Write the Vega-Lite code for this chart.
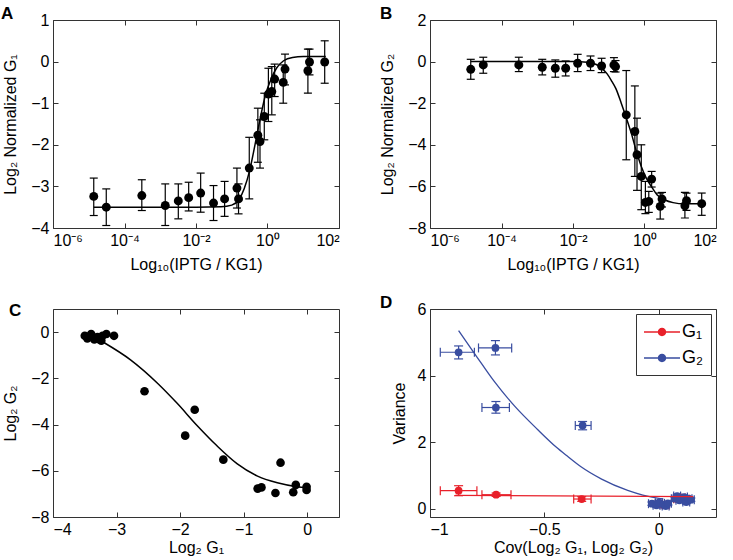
{
  "$schema": "https://vega.github.io/schema/vega-lite/v6.json",
  "background": "white",
  "padding": {"left": 0, "top": 4, "right": 5, "bottom": 5},
  "config": {
    "font": "Liberation Sans",
    "view": {"stroke": "#333", "strokeWidth": 1},
    "axis": {"domain": false, "grid": false, "tickSize": -5, "tickColor": "#333", "tickWidth": 1, "labelPadding": 9, "labelFontSize": 16, "labelColor": "black", "labelFont": "Liberation Sans", "titleFont": "Liberation Sans", "titleFontSize": 16, "titleFontWeight": "normal", "titleColor": "black", "titlePadding": 8},
    "axisLeft": {"titlePadding": 12},
    "title": {"anchor": "start", "frame": "group", "baseline": "alphabetic", "fontSize": 17, "fontWeight": "bold", "font": "Liberation Sans", "color": "black"}
  },
  "resolve": {"scale": {"color": "independent"}, "legend": {"color": "independent"}},
  "datasets": {
    "main": [
      {"x": 1.38e-5, "g1": -3.24, "g1lo": -3.70, "g1hi": -2.80, "g2": -0.37, "g2lo": -0.85, "g2hi": 0.11},
      {"x": 3.09e-5, "g1": -3.50, "g1lo": -3.94, "g1hi": -3.06, "g2": -0.16, "g2lo": -0.56, "g2hi": 0.21},
      {"x": 3.05e-4, "g1": -3.22, "g1lo": -3.58, "g1hi": -2.84, "g2": -0.16, "g2lo": -0.48, "g2hi": 0.21},
      {"x": 1.38e-3, "g1": -3.46, "g1lo": -3.94, "g1hi": -2.94, "g2": -0.27, "g2lo": -0.64, "g2hi": 0.11},
      {"x": 3.2e-3, "g1": -3.35, "g1lo": -3.78, "g1hi": -2.94, "g2": -0.32, "g2lo": -0.75, "g2hi": 0.08},
      {"x": 6.24e-3, "g1": -3.27, "g1lo": -3.59, "g1hi": -2.90, "g2": -0.32, "g2lo": -0.69, "g2hi": 0.03},
      {"x": 1.35e-2, "g1": -3.16, "g1lo": -3.62, "g1hi": -2.68, "g2": -0.08, "g2lo": -0.48, "g2hi": 0.35},
      {"x": 3.09e-2, "g1": -3.40, "g1lo": -3.82, "g1hi": -2.98, "g2": -0.08, "g2lo": -0.43, "g2hi": 0.27},
      {"x": 6.31e-2, "g1": -3.30, "g1lo": -3.72, "g1hi": -2.88, "g2": -0.21, "g2lo": -0.53, "g2hi": 0.16},
      {"x": 0.1396, "g1": -3.04, "g1lo": -3.52, "g1hi": -2.56, "g2": -0.16, "g2lo": -0.48, "g2hi": 0.19},
      {"x": 0.1549, "g1": -3.30, "g1lo": -3.66, "g1hi": -2.94, "g2": -0.24, "g2lo": -0.50, "g2hi": 0.05},
      {"x": 0.309, "g1": -2.56, "g1lo": -3.30, "g1hi": -1.82, "g2": -2.56, "g2lo": -4.72, "g2hi": -0.43},
      {"x": 0.537, "g1": -1.77, "g1lo": -2.42, "g1hi": -1.12, "g2": -3.36, "g2lo": -5.52, "g2hi": -1.17},
      {"x": 0.617, "g1": -1.92, "g1lo": -2.56, "g1hi": -1.40, "g2": -4.48, "g2lo": -6.19, "g2hi": -2.72},
      {"x": 0.813, "g1": -1.32, "g1lo": -1.88, "g1hi": -0.76, "g2": -5.52, "g2lo": -7.12, "g2hi": -4.00},
      {"x": 1.059, "g1": -0.78, "g1lo": -1.44, "g1hi": -0.16, "g2": -6.77, "g2lo": -7.31, "g2hi": -5.76},
      {"x": 1.318, "g1": -0.72, "g1lo": -1.28, "g1hi": -0.12, "g2": -6.72, "g2lo": -7.25, "g2hi": -6.24},
      {"x": 1.585, "g1": -0.42, "g1lo": -0.84, "g1hi": -0.06, "g2": -5.65, "g2lo": -6.03, "g2hi": -5.28},
      {"x": 2.754, "g1": -0.50, "g1lo": -1.00, "g1hi": -0.08, "g2": -6.96, "g2lo": -7.57, "g2hi": -6.32},
      {"x": 3.09, "g1": -0.18, "g1lo": -0.56, "g1hi": 0.18, "g2": -6.61, "g2lo": -6.99, "g2hi": -6.29},
      {"x": 13.49, "g1": -0.22, "g1lo": -0.76, "g1hi": 0.30, "g2": -6.93, "g2lo": -7.52, "g2hi": -6.29},
      {"x": 14.96, "g1": -0.01, "g1lo": -0.32, "g1hi": 0.30, "g2": -6.69, "g2lo": -7.15, "g2hi": -6.32},
      {"x": 39.81, "g1": -0.01, "g1lo": -0.52, "g1hi": 0.50, "g2": -6.83, "g2lo": -7.39, "g2hi": -6.32}
    ],
    "curveA": [
      {"x": 1.38e-5, "y": -3.5}, {"x": 0.01, "y": -3.5}, {"x": 0.05012, "y": -3.49}, {"x": 0.1, "y": -3.45},
      {"x": 0.1585, "y": -3.32}, {"x": 0.2239, "y": -3.05}, {"x": 0.3162, "y": -2.62}, {"x": 0.4467, "y": -2.0},
      {"x": 0.631, "y": -1.35}, {"x": 0.8913, "y": -0.78}, {"x": 1.259, "y": -0.42}, {"x": 1.778, "y": -0.16},
      {"x": 2.818, "y": 0.02}, {"x": 5.012, "y": 0.1}, {"x": 10, "y": 0.12}, {"x": 42.66, "y": 0.12}
    ],
    "curveB": [
      {"x": 1.38e-5, "y": 0.0}, {"x": 0.01, "y": 0.0}, {"x": 0.02512, "y": -0.03}, {"x": 0.04467, "y": -0.14},
      {"x": 0.06166, "y": -0.3}, {"x": 0.08913, "y": -0.58}, {"x": 0.1175, "y": -0.9}, {"x": 0.1585, "y": -1.3},
      {"x": 0.2239, "y": -2.0}, {"x": 0.3162, "y": -2.75}, {"x": 0.4266, "y": -3.44}, {"x": 0.5888, "y": -4.3},
      {"x": 0.8128, "y": -5.04}, {"x": 1.122, "y": -5.6}, {"x": 1.549, "y": -6.0}, {"x": 2.239, "y": -6.4},
      {"x": 3.631, "y": -6.64}, {"x": 6.31, "y": -6.78}, {"x": 13.18, "y": -6.84}, {"x": 38.02, "y": -6.84}
    ],
    "curveC": [
      {"x": -3.2, "y": -0.45}, {"x": -2.78, "y": -1.2}, {"x": -2.36, "y": -2.2}, {"x": -2.05, "y": -3.07},
      {"x": -1.73, "y": -4.05}, {"x": -1.42, "y": -4.92}, {"x": -1.1, "y": -5.7}, {"x": -0.79, "y": -6.22},
      {"x": -0.47, "y": -6.52}, {"x": -0.16, "y": -6.69}, {"x": 0.0, "y": -6.74}
    ],
    "dpts": [
      {"s": "G₁", "cov": -0.875, "covlo": -0.955, "covhi": -0.795, "v": 0.54, "vlo": 0.39, "vhi": 0.69},
      {"s": "G₁", "cov": -0.711, "covlo": -0.773, "covhi": -0.646, "v": 0.42, "vlo": 0.37, "vhi": 0.47},
      {"s": "G₁", "cov": -0.337, "covlo": -0.372, "covhi": -0.296, "v": 0.29, "vlo": 0.22, "vhi": 0.36},
      {"s": "G₁", "cov": 0.0, "covlo": -0.015, "covhi": 0.015, "v": 0.14, "vlo": 0.10, "vhi": 0.18},
      {"s": "G₁", "cov": 0.03, "covlo": 0.015, "covhi": 0.045, "v": 0.12, "vlo": 0.08, "vhi": 0.16},
      {"s": "G₁", "cov": 0.08, "covlo": 0.065, "covhi": 0.095, "v": 0.30, "vlo": 0.25, "vhi": 0.35},
      {"s": "G₁", "cov": 0.10, "covlo": 0.085, "covhi": 0.115, "v": 0.33, "vlo": 0.28, "vhi": 0.38},
      {"s": "G₁", "cov": 0.12, "covlo": 0.105, "covhi": 0.135, "v": 0.28, "vlo": 0.23, "vhi": 0.33},
      {"s": "G₂", "cov": -0.875, "covlo": -0.955, "covhi": -0.806, "v": 4.70, "vlo": 4.50, "vhi": 4.89},
      {"s": "G₂", "cov": -0.714, "covlo": -0.788, "covhi": -0.643, "v": 4.83, "vlo": 4.62, "vhi": 5.05},
      {"s": "G₂", "cov": -0.712, "covlo": -0.773, "covhi": -0.653, "v": 3.04, "vlo": 2.87, "vhi": 3.22},
      {"s": "G₂", "cov": -0.333, "covlo": -0.365, "covhi": -0.296, "v": 2.50, "vlo": 2.37, "vhi": 2.62},
      {"s": "G₂", "cov": -0.03, "covlo": -0.045, "covhi": -0.015, "v": 0.15, "vlo": 0.10, "vhi": 0.20},
      {"s": "G₂", "cov": -0.01, "covlo": -0.025, "covhi": 0.005, "v": 0.10, "vlo": 0.05, "vhi": 0.15},
      {"s": "G₂", "cov": 0.0, "covlo": -0.015, "covhi": 0.015, "v": 0.18, "vlo": 0.13, "vhi": 0.23},
      {"s": "G₂", "cov": 0.02, "covlo": 0.005, "covhi": 0.035, "v": 0.12, "vlo": 0.07, "vhi": 0.17},
      {"s": "G₂", "cov": 0.03, "covlo": 0.015, "covhi": 0.045, "v": 0.08, "vlo": 0.03, "vhi": 0.13},
      {"s": "G₂", "cov": 0.04, "covlo": 0.025, "covhi": 0.055, "v": 0.16, "vlo": 0.11, "vhi": 0.21},
      {"s": "G₂", "cov": 0.07, "covlo": 0.055, "covhi": 0.085, "v": 0.30, "vlo": 0.25, "vhi": 0.35},
      {"s": "G₂", "cov": 0.08, "covlo": 0.065, "covhi": 0.095, "v": 0.38, "vlo": 0.33, "vhi": 0.43},
      {"s": "G₂", "cov": 0.09, "covlo": 0.075, "covhi": 0.105, "v": 0.25, "vlo": 0.20, "vhi": 0.30},
      {"s": "G₂", "cov": 0.11, "covlo": 0.095, "covhi": 0.125, "v": 0.35, "vlo": 0.30, "vhi": 0.40},
      {"s": "G₂", "cov": 0.12, "covlo": 0.105, "covhi": 0.135, "v": 0.20, "vlo": 0.15, "vhi": 0.25},
      {"s": "G₂", "cov": 0.13, "covlo": 0.115, "covhi": 0.145, "v": 0.30, "vlo": 0.25, "vhi": 0.35},
      {"s": "G₂", "cov": 0.14, "covlo": 0.125, "covhi": 0.155, "v": 0.27, "vlo": 0.22, "vhi": 0.32}
    ],
    "dcurve": [
      {"s": "G₂", "cov": -0.875, "v": 5.35}, {"s": "G₂", "cov": -0.80, "v": 4.61}, {"s": "G₂", "cov": -0.72, "v": 3.83},
      {"s": "G₂", "cov": -0.63, "v": 3.08}, {"s": "G₂", "cov": -0.53, "v": 2.38}, {"s": "G₂", "cov": -0.45, "v": 1.86},
      {"s": "G₂", "cov": -0.40, "v": 1.58}, {"s": "G₂", "cov": -0.34, "v": 1.26}, {"s": "G₂", "cov": -0.25, "v": 0.89},
      {"s": "G₂", "cov": -0.136, "v": 0.55}, {"s": "G₂", "cov": -0.07, "v": 0.41}, {"s": "G₂", "cov": 0.0, "v": 0.31},
      {"s": "G₂", "cov": 0.02, "v": 0.29},
      {"s": "G₁", "cov": -0.89, "v": 0.40}, {"s": "G₁", "cov": 0.15, "v": 0.36}
    ]
  },
  "columns": 2,
  "spacing": {"row": 81, "column": 91},
  "bounds": "flush",
  "concat": [
    {
      "width": 286, "height": 208,
      "title": {"text": "A", "dx": -52, "offset": -11},
      "resolve": {"axis": {"x": "independent", "y": "independent"}},
      "layer": [
        {
          "data": {"name": "curveA"},
          "mark": {"type": "line", "color": "black", "strokeWidth": 1.5, "interpolate": "monotone"},
          "encoding": {
            "x": {"field": "x", "type": "quantitative", "scale": {"type": "log", "domain": [1e-6, 100], "nice": false},
                  "axis": {"values": [1e-6, 1e-4, 0.01, 1, 100], "title": "Log₁₀(IPTG / KG1)",
                           "labelExpr": "round(log(datum.value)/LN10) == -6 ? '10⁻⁶' : round(log(datum.value)/LN10) == -4 ? '10⁻⁴' : round(log(datum.value)/LN10) == -2 ? '10⁻²' : round(log(datum.value)/LN10) == 0 ? '10⁰' : '10²'"}},
            "y": {"field": "y", "type": "quantitative", "scale": {"domain": [-4, 1], "nice": false},
                  "axis": {"values": [-4, -3, -2, -1, 0, 1], "format": "~g", "title": "Log₂ Normalized G₁"}}
          }
        },
        {
          "data": {"name": "main"},
          "mark": {"type": "errorbar", "color": "black", "thickness": 1.2, "opacity": 1, "ticks": {"size": 8}},
          "encoding": {
            "x": {"field": "x", "type": "quantitative", "axis": null},
            "y": {"field": "g1lo", "type": "quantitative", "axis": null},
            "y2": {"field": "g1hi"}
          }
        },
        {
          "data": {"name": "main"},
          "mark": {"type": "point", "filled": true, "color": "black", "size": 80, "opacity": 1},
          "encoding": {
            "x": {"field": "x", "type": "quantitative", "axis": {"orient": "top", "labels": false, "title": null, "values": [1e-6, 1e-4, 0.01, 1, 100]}},
            "y": {"field": "g1", "type": "quantitative", "axis": {"orient": "right", "labels": false, "title": null, "values": [-4, -3, -2, -1, 0, 1]}}
          }
        }
      ]
    },
    {
      "width": 286, "height": 208,
      "title": {"text": "B", "dx": -50, "offset": -11},
      "resolve": {"axis": {"x": "independent", "y": "independent"}},
      "layer": [
        {
          "data": {"name": "curveB"},
          "mark": {"type": "line", "color": "black", "strokeWidth": 1.5, "interpolate": "monotone"},
          "encoding": {
            "x": {"field": "x", "type": "quantitative", "scale": {"type": "log", "domain": [1e-6, 100], "nice": false},
                  "axis": {"values": [1e-6, 1e-4, 0.01, 1, 100], "title": "Log₁₀(IPTG / KG1)",
                           "labelExpr": "round(log(datum.value)/LN10) == -6 ? '10⁻⁶' : round(log(datum.value)/LN10) == -4 ? '10⁻⁴' : round(log(datum.value)/LN10) == -2 ? '10⁻²' : round(log(datum.value)/LN10) == 0 ? '10⁰' : '10²'"}},
            "y": {"field": "y", "type": "quantitative", "scale": {"domain": [-8, 2], "nice": false},
                  "axis": {"values": [-8, -6, -4, -2, 0, 2], "format": "~g", "title": "Log₂ Normalized G₂"}}
          }
        },
        {
          "data": {"name": "main"},
          "mark": {"type": "errorbar", "color": "black", "thickness": 1.2, "opacity": 1, "ticks": {"size": 8}},
          "encoding": {
            "x": {"field": "x", "type": "quantitative", "axis": null},
            "y": {"field": "g2lo", "type": "quantitative", "axis": null},
            "y2": {"field": "g2hi"}
          }
        },
        {
          "data": {"name": "main"},
          "mark": {"type": "point", "filled": true, "color": "black", "size": 80, "opacity": 1},
          "encoding": {
            "x": {"field": "x", "type": "quantitative", "axis": {"orient": "top", "labels": false, "title": null, "values": [1e-6, 1e-4, 0.01, 1, 100]}},
            "y": {"field": "g2", "type": "quantitative", "axis": {"orient": "right", "labels": false, "title": null, "values": [-8, -6, -4, -2, 0, 2]}}
          }
        }
      ]
    },
    {
      "width": 286, "height": 208,
      "title": {"text": "C", "dx": -44, "dy": 13, "offset": 2},
      "resolve": {"axis": {"x": "independent", "y": "independent"}},
      "layer": [
        {
          "data": {"name": "curveC"},
          "mark": {"type": "line", "color": "black", "strokeWidth": 1.5, "interpolate": "monotone"},
          "encoding": {
            "x": {"field": "x", "type": "quantitative", "scale": {"domain": [-4, 0.5], "nice": false},
                  "axis": {"values": [-4, -3, -2, -1, 0], "format": "~g", "title": "Log₂ G₁", "titlePadding": 2}},
            "y": {"field": "y", "type": "quantitative", "scale": {"domain": [-8, 1], "nice": false},
                  "axis": {"values": [-8, -6, -4, -2, 0], "format": "~g", "title": "Log₂ G₂"}}
          }
        },
        {
          "data": {"name": "main"},
          "mark": {"type": "point", "filled": true, "color": "black", "size": 75, "opacity": 1},
          "encoding": {
            "x": {"field": "g1", "type": "quantitative", "axis": {"orient": "top", "labels": false, "title": null, "values": [-4, -3, -2, -1, 0]}},
            "y": {"field": "g2", "type": "quantitative", "axis": {"orient": "right", "labels": false, "title": null, "values": [-8, -6, -4, -2, 0]}}
          }
        }
      ]
    },
    {
      "width": 286, "height": 208,
      "title": {"text": "D", "dx": -50, "dy": 13, "offset": 2},
      "resolve": {"axis": {"x": "independent", "y": "independent"}},
      "layer": [
        {
          "data": {"name": "dpts"},
          "mark": {"type": "errorbar", "thickness": 1.2, "opacity": 1, "ticks": {"size": 9}},
          "encoding": {
            "x": {"field": "covlo", "type": "quantitative", "scale": {"domain": [-1, 0.25], "nice": false}, "axis": null},
            "x2": {"field": "covhi"},
            "y": {"field": "v", "type": "quantitative", "scale": {"domain": [-0.25, 6], "nice": false}, "axis": null},
            "color": {"field": "s", "type": "nominal", "scale": {"domain": ["G₁", "G₂"], "range": ["#e8202a", "#394da0"]}}
          }
        },
        {
          "data": {"name": "dpts"},
          "mark": {"type": "errorbar", "thickness": 1.2, "opacity": 1, "ticks": {"size": 9}},
          "encoding": {
            "x": {"field": "cov", "type": "quantitative", "axis": null},
            "y": {"field": "vlo", "type": "quantitative", "axis": null},
            "y2": {"field": "vhi"},
            "color": {"field": "s", "type": "nominal"}
          }
        },
        {
          "data": {"name": "dpts"},
          "mark": {"type": "point", "filled": true, "size": 60, "opacity": 1},
          "encoding": {
            "x": {"field": "cov", "type": "quantitative", "axis": {"values": [-1, -0.5, 0], "format": "~g", "title": "Cov(Log₂ G₁, Log₂ G₂)", "titlePadding": 2}},
            "y": {"field": "v", "type": "quantitative", "axis": {"values": [0, 2, 4, 6], "format": "~g", "title": "Variance", "titlePadding": 10}},
            "color": {"field": "s", "type": "nominal",
                      "legend": {"title": null, "orient": "top-right", "offset": 5, "strokeColor": "#333", "fillColor": "white", "padding": 8,
                                 "symbolType": "M-1.8,-0.075H1.8V0.075H-1.8Z M0.42,0A0.42,0.42,0,1,1,-0.42,0A0.42,0.42,0,1,1,0.42,0Z",
                                 "symbolSize": 400, "symbolOffset": 8, "labelOffset": 10, "labelFontSize": 18, "labelColor": "black",
                                 "symbolStrokeWidth": 0, "symbolOpacity": 1, "rowPadding": 7,
                                 "encode": {"symbols": {"update": {"opacity": {"value": 1}, "fillOpacity": {"value": 1}, "strokeOpacity": {"value": 1}}}}}}
          }
        },
        {
          "data": {"name": "dcurve"},
          "mark": {"type": "line", "strokeWidth": 1.3, "interpolate": "monotone"},
          "encoding": {
            "x": {"field": "cov", "type": "quantitative", "axis": {"orient": "top", "labels": false, "title": null, "values": [-1, -0.5, 0]}},
            "y": {"field": "v", "type": "quantitative", "axis": {"orient": "right", "labels": false, "title": null, "values": [0, 2, 4, 6]}},
            "color": {"field": "s", "type": "nominal"},
            "detail": {"field": "s"}
          }
        }
      ]
    }
  ]
}
